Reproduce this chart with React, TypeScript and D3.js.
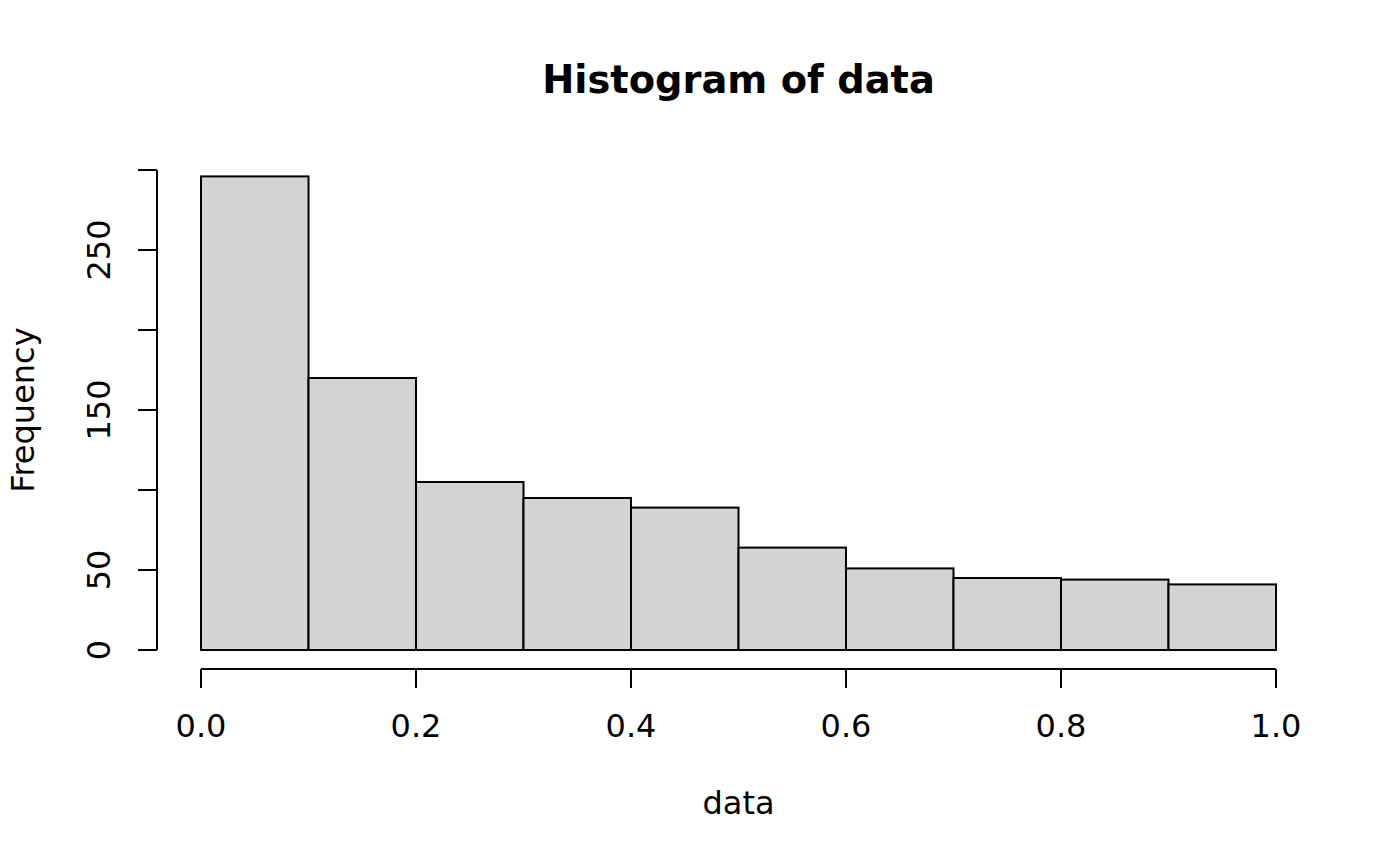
import React from "react";
import * as d3 from "d3";

const breaks = [0, 0.1, 0.2, 0.3, 0.4, 0.5, 0.6, 0.7, 0.8, 0.9, 1.0];
const counts = [296, 170, 105, 95, 89, 64, 51, 45, 44, 41];
const xTicks = [0, 0.2, 0.4, 0.6, 0.8, 1.0];
const yTicks = [0, 50, 100, 150, 200, 250, 300];
const yLabels = [0, 50, 150, 250];
const title = "Histogram of data";
const xTitle = "data";
const yTitle = "Frequency";

const W = 1400;
const H = 865;
const FONT = "'DejaVu Sans', sans-serif";

export default function App() {
  const x = d3.scaleLinear().domain([0, 1]).range([201, 1276]);
  const y = d3.scaleLinear().domain([0, 300]).range([650, 170]);
  const xAxisY = 669;
  const yAxisX = 157;
  const tick = 19;
  const bins = counts.map((c, i) => ({ x0: breaks[i], x1: breaks[i + 1], c }));
  return (
    <svg width={W} height={H} style={{ position: "absolute", left: 0, top: 0, background: "#fff" }} fontFamily={FONT}>
      <rect x={0} y={0} width={W} height={H} fill="#fff" />
      <text x={(x(0) + x(1)) / 2} y={93} textAnchor="middle" fontWeight="bold" fontSize={38.4}>{title}</text>
      {bins.map((b, i) => (
        <rect key={i} x={x(b.x0)} y={y(b.c)} width={x(b.x1) - x(b.x0)} height={y(0) - y(b.c)} fill="#d3d3d3" stroke="#000" strokeWidth={2} />
      ))}
      {/* x axis */}
      <line x1={x(0)} x2={x(1)} y1={xAxisY} y2={xAxisY} stroke="#000" strokeWidth={2} />
      {xTicks.map((t) => (
        <g key={t}>
          <line x1={x(t)} x2={x(t)} y1={xAxisY} y2={xAxisY + tick} stroke="#000" strokeWidth={2} />
          <text x={x(t)} y={737} textAnchor="middle" fontSize={32}>{t.toFixed(1)}</text>
        </g>
      ))}
      {/* y axis */}
      <line x1={yAxisX} x2={yAxisX} y1={y(0)} y2={y(300)} stroke="#000" strokeWidth={2} />
      {yTicks.map((t) => (
        <line key={t} x1={yAxisX - tick} x2={yAxisX} y1={y(t)} y2={y(t)} stroke="#000" strokeWidth={2} />
      ))}
      {yLabels.map((t) => (
        <text key={t} transform={`translate(110,${y(t)}) rotate(-90)`} textAnchor="middle" fontSize={32}>{t}</text>
      ))}
      <text x={(x(0) + x(1)) / 2} y={814} textAnchor="middle" fontSize={32}>{xTitle}</text>
      <text transform={`translate(34,${(y(0) + y(300)) / 2}) rotate(-90)`} textAnchor="middle" fontSize={32}>{yTitle}</text>
    </svg>
  );
}
